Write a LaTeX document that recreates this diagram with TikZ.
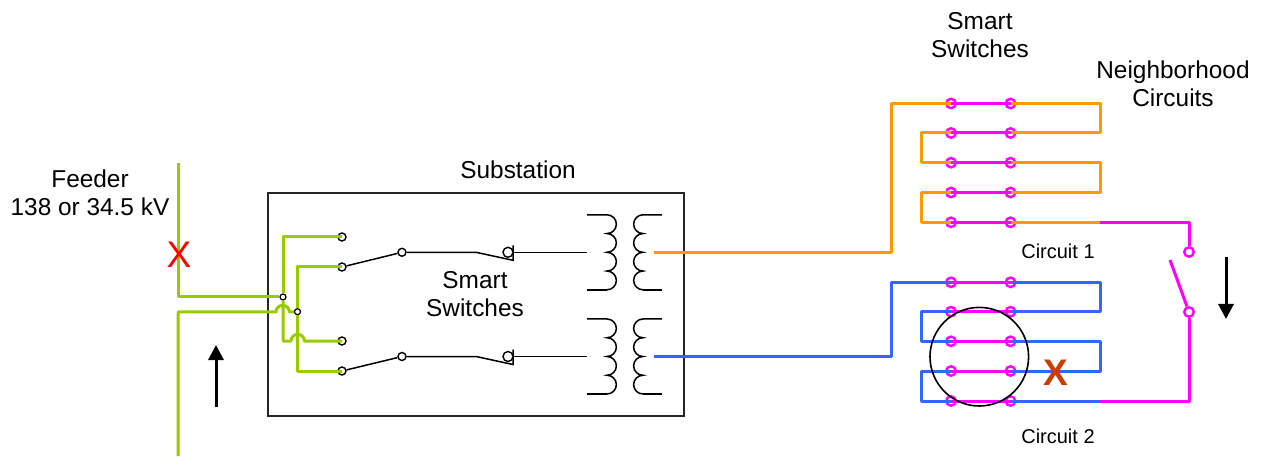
\documentclass[tikz,border=0pt]{standalone}
\usepackage{fontspec}
\setmainfont{Liberation Sans}
\usetikzlibrary{arrows.meta}
\definecolor{FeederGreen}{RGB}{153,204,0}
\definecolor{CircuitOrange}{RGB}{255,153,0}
\definecolor{CircuitBlue}{RGB}{51,102,255}
\definecolor{TieMagenta}{RGB}{255,0,255}
\definecolor{FaultRed}{RGB}{204,60,0}
\newcommand{\bigfont}{\fontsize{24.4}{28}\selectfont}
\newcommand{\smallfont}{\fontsize{20}{24}\selectfont}
\newcommand{\markfont}{\fontsize{37}{40}\selectfont}

\begin{document}
\begin{tikzpicture}[x=1pt,y=-1pt,font=\bigfont]
    \tikzset{
        wire/.style={line width=1.5pt},
        feedline/.style={line width=3pt, draw=FeederGreen, line join=round},
        orangeline/.style={line width=3pt, draw=CircuitOrange, line join=round},
        blueline/.style={line width=3pt, draw=CircuitBlue, line join=round},
        tieline/.style={line width=3pt, draw=TieMagenta, line join=round},
        blackterm/.style={circle, draw=black, line width=1.4pt, fill=white,
            inner sep=0pt, minimum size=8pt},
        tieterm/.style={circle, draw=TieMagenta, line width=2.4pt, fill=white,
            inner sep=0pt, minimum size=9.5pt},
        junction/.style={circle, draw=black, line width=1.2pt, fill=white,
            inner sep=0pt, minimum size=6pt},
        caption/.style={align=center, inner sep=0pt},
        flowarrow/.style={line width=3pt, -{Triangle[length=15pt,width=15pt]}}
    }
    \useasboundingbox (0,0) rectangle (1262,457);
    % labels
    \node[caption] (feederlabel) at (90,193) {Feeder\\138 or 34.5 kV};
    \node[caption] (sublabel) at (518,170) {Substation};
    \node[caption] (smartsub) at (475,294) {Smart\\Switches};
    \node[caption] (smarttop) at (980,35) {Smart\\Switches};
    \node[caption] (hoodlabel) at (1173,84) {Neighborhood\\Circuits};
    \node[caption, font=\smallfont] (circone) at (1058,251) {Circuit 1};
    \node[caption, font=\smallfont] (circtwo) at (1058,436) {Circuit 2};
    % substation box
    \node[draw=black!85, line width=1.2pt, minimum width=416pt, minimum height=223pt,
        inner sep=0pt] (subbox) at (476,304.5) {};
    % substation terminals
    \node[blackterm] (ta) at (342,237) {};
    \node[blackterm] (tb) at (342,267) {};
    \node[blackterm] (tc) at (342,341) {};
    \node[blackterm] (td) at (342,371) {};
    \node[junction] (joina) at (283,297) {};
    \node[junction] (joinb) at (297.5,311.7) {};
    \coordinate (feedtop) at (178,163);
    \coordinate (feedbot) at (178,456);
    \coordinate (hopa) at (276,312);
    \coordinate (hopb) at (291,341);
    % green bus
    \draw[feedline] (feedtop) |- (joina);
    \draw[feedline] (feedbot) |- (hopa) arc[start angle=180, end angle=360, radius=6.7] -- (joinb);
    \draw[feedline] (joina) |- (ta.center);
    \draw[feedline] (joinb) |- (tb.center);
    \draw[feedline] (joina) |- (hopb) arc[start angle=180, end angle=360, radius=6.7] -- (tc.center);
    \draw[feedline] (joinb) |- (td.center);
    % switches and transformers
    \foreach \n/\y/\from in {up/252.3/tb, low/356.5/td} {
        \node[blackterm] (swa\n) at (402,\y) {};
        \node[blackterm, minimum size=10pt] (swb\n) at (508,\y) {};
        \coordinate (hinge\n) at (476,\y);
        \coordinate (blade\n) at (513,\y+8);
        \coordinate (tick\n) at (513,\y-7);
        \coordinate (prim\n) at (587,\y);
        \draw[wire] (\from) -- (swa\n);
        \draw[wire] (swa\n) -- (hinge\n) -- (blade\n) -- (tick\n);
        \draw[wire] (tick\n |- prim\n) -- (prim\n);
        % primary coil
        \draw[wire] (587,\y-37.5) -- ++(20,0)
            \foreach \k in {1,...,4} {arc[start angle=-90, end angle=90, radius=9.375]};
        \draw[wire] (607,\y+37.5) -- (587,\y+37.5);
        % secondary coil
        \draw[wire] (662,\y-37.5) -- ++(-19,0)
            \foreach \k in {1,...,4} {arc[start angle=270, end angle=90, radius=9.375]};
        \draw[wire] (643,\y+37.5) -- (662,\y+37.5);
    }
    % tie terminals
    \foreach \i/\y in {1/103.5, 2/133, 3/162.7, 4/192.5, 5/222.3} {
        \node[tieterm] (oa\i) at (951,\y) {};
        \node[tieterm] (ob\i) at (1010.5,\y) {};
        \draw[tieline] (oa\i.center) -- (ob\i.center);
    }
    \foreach \i/\y in {1/282.3, 2/311.7, 3/341.3, 4/371, 5/401} {
        \node[tieterm] (ba\i) at (951,\y) {};
        \node[tieterm] (bb\i) at (1010.5,\y) {};
        \draw[tieline] (ba\i.center) -- (bb\i.center);
    }
    \node[tieterm] (tiea) at (1189,252) {};
    \node[tieterm] (tieb) at (1189,312) {};
    \coordinate (tieblade) at (1170,260);
    % orange circuit
    \coordinate (oout) at (654,252.3);
    \coordinate (obend) at (891.5,252.3);
    \coordinate (orighta) at (1100,120);
    \coordinate (orightb) at (1100,178);
    \coordinate (olefta) at (921.5,148);
    \coordinate (oleftb) at (921.5,207);
    \coordinate (osplit) at (1100,222.3);
    \draw[orangeline] (oout) -- (obend) |- (oa1.center);
    \draw[orangeline] (ob1.center) -| (orighta) |- (ob2.center);
    \draw[orangeline] (oa2.center) -| (olefta) |- (oa3.center);
    \draw[orangeline] (ob3.center) -| (orightb) |- (ob4.center);
    \draw[orangeline] (oa4.center) -| (oleftb) |- (oa5.center);
    \draw[orangeline] (ob5.center) -- (osplit);
    % blue circuit
    \coordinate (bout) at (654,356.5);
    \coordinate (bbend) at (891.5,356.5);
    \coordinate (brighta) at (1100,297);
    \coordinate (brightb) at (1100,356);
    \coordinate (blefta) at (921.5,326);
    \coordinate (bleftb) at (921.5,386);
    \coordinate (bsplit) at (1100,401);
    \draw[blueline] (bout) -- (bbend) |- (ba1.center);
    \draw[blueline] (bb1.center) -| (brighta) |- (bb2.center);
    \draw[blueline] (ba2.center) -| (blefta) |- (ba3.center);
    \draw[blueline] (bb3.center) -| (brightb) |- (bb4.center);
    \draw[blueline] (ba4.center) -| (bleftb) |- (ba5.center);
    \draw[blueline] (bb5.center) -- (bsplit);
    % tie switch
    \draw[tieline] (osplit) -| (tiea);
    \draw[tieline] (tieb) |- (bsplit);
    \draw[tieline] (tieb) -- (tieblade);
    % fault marks and arrows
    \node[circle, draw=black, line width=1.6pt, minimum size=98.6pt, inner sep=0pt] (faultring) at (979.3,356.7) {};
    \node[inner sep=0pt, text=red, font=\markfont] (feedx) at (179,255) {X};
    \node[inner sep=0pt, text=FaultRed, font=\markfont\bfseries] (circx) at (1055.7,372.7) {X};
    \coordinate (uptail) at (216,407);
    \coordinate (uphead) at (216,345);
    \coordinate (downtail) at (1226,257);
    \coordinate (downhead) at (1226,319);
    \draw[flowarrow] (uptail) -- (uphead);
    \draw[flowarrow] (downtail) -- (downhead);
\end{tikzpicture}
\end{document}
